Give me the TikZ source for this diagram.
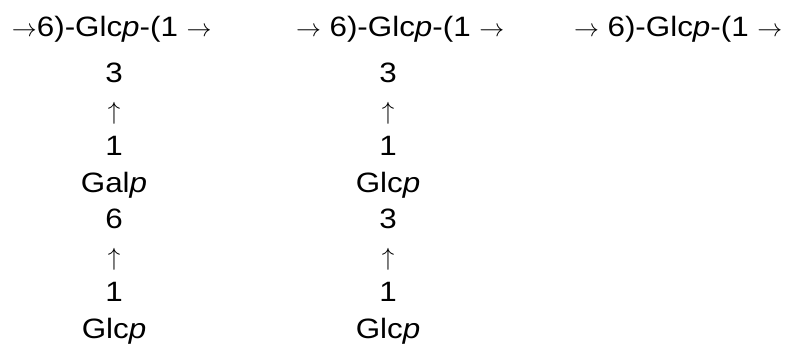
\documentclass[tikz,border=0pt]{standalone}
\usepackage{fontspec}
\setmainfont{Liberation Sans}[FakeStretch=1.12]
\newcommand{\rarr}{\ensuremath{\rightarrow}}
\newcommand{\uarr}{\ensuremath{\uparrow}}
\begin{document}
\begin{tikzpicture}[x=1pt,y=-1pt,
  lbl/.style={inner sep=0pt, outer sep=0pt, font=\fontsize{28}{30}\selectfont},
  chain/.style={lbl, anchor=base west},
  col/.style={lbl, anchor=base}]
\useasboundingbox (0,0) rectangle (795,347);
\node[chain] (t1) at (12,37) {\rarr6)-Glc\textit{p}-(1 \rarr};
\node[chain] (t2) at (296,37) {\rarr{} 6)-Glc\textit{p}-(1 \rarr};
\node[chain] (t3) at (574,37) {\rarr{} 6)-Glc\textit{p}-(1 \rarr};
% column 1
\node[col] (a1) at (114,83) {3};
\node[col] (a2) at (114,119.4) {\uarr};
\node[col] (a3) at (114,155.9) {1};
\node[col] (a4) at (114,192.3) {Gal\textit{p}};
\node[col] (a5) at (114,228.7) {6};
\node[col] (a6) at (114,265.1) {\uarr};
\node[col] (a7) at (114,301.6) {1};
\node[col] (a8) at (114,338) {Glc\textit{p}};
% column 2
\node[col] (b1) at (388,83) {3};
\node[col] (b2) at (388,119.4) {\uarr};
\node[col] (b3) at (388,155.9) {1};
\node[col] (b4) at (388,192.3) {Glc\textit{p}};
\node[col] (b5) at (388,228.7) {3};
\node[col] (b6) at (388,265.1) {\uarr};
\node[col] (b7) at (388,301.6) {1};
\node[col] (b8) at (388,338) {Glc\textit{p}};
\end{tikzpicture}
\end{document}
